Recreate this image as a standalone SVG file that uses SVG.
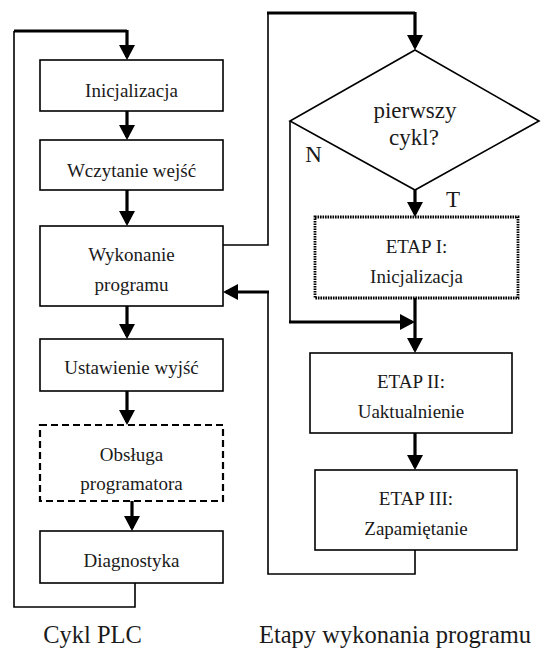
<svg xmlns="http://www.w3.org/2000/svg" width="541" height="655" viewBox="0 0 541 655">
<style>
  .box { fill: #fff; stroke: #000; stroke-width: 1.6; }
  .dashed { stroke-dasharray: 7 4; stroke-width: 2.2; }
  .dotted { stroke-dasharray: 1.6 0.9; stroke-width: 2.8; }
  .t { font-family: 'Liberation Serif', 'DejaVu Serif', 'Times New Roman', serif; font-size: 19px; fill: #1a1a1a; text-anchor: middle; }
  .big { font-size: 23px; }
  .cap { font-size: 24.5px; }
  .thin { fill: none; stroke: #000; stroke-width: 1.6; }
  .thick { fill: none; stroke: #000; stroke-width: 3.2; }
  .arr { marker-end: url(#ah); }
</style>
<defs>
  <marker id="ah" markerUnits="userSpaceOnUse" markerWidth="16" markerHeight="16" refX="12" refY="8" orient="auto" viewBox="0 0 16 16">
    <path d="M0,0 L15,8 L0,16 z" fill="#000"/>
  </marker>
</defs>
<rect width="541" height="655" fill="#fff"/>

<g id="connectors">
  <polyline class="thin" points="135,583 135,607 14,607 14,31"/>
  <polyline class="thick" points="14,31 127,31"/>
  <line class="thick arr" x1="127" y1="30" x2="127" y2="57"/>
  <line class="thick arr" x1="127" y1="111" x2="127" y2="137"/>
  <line class="thick arr" x1="127" y1="190" x2="127" y2="223"/>
  <line class="thick arr" x1="127" y1="306" x2="127" y2="336"/>
  <line class="thick arr" x1="127" y1="391" x2="127" y2="422"/>
  <line class="thick arr" x1="132" y1="501" x2="132" y2="528"/>
  <polyline class="thin" points="223,245 268,245 268,13"/>
  <polyline class="thick" points="267,13 415,13"/>
  <line class="thick arr" x1="415" y1="12" x2="415" y2="47"/>
  <line class="thick arr" x1="415" y1="190" x2="415" y2="214"/>
  <polyline class="thin" points="290,121 290,322"/>
  <line class="thick arr" x1="289" y1="322" x2="412" y2="322"/>
  <line class="thick arr" x1="415" y1="298" x2="415" y2="350"/>
  <line class="thick arr" x1="415" y1="433" x2="415" y2="467"/>
  <polyline class="thin" points="415,550 415,574 268,574 268,292"/>
  <line class="thick arr" x1="269" y1="292" x2="226" y2="292"/>
</g>

<g id="n-inicjalizacja">
  <rect class="box" x="40" y="60" width="183" height="51"/>
  <text class="t" x="131.5" y="97">Inicjalizacja</text>
</g>
<g id="n-wczytanie">
  <rect class="box" x="40" y="140" width="183" height="50"/>
  <text class="t" x="131.5" y="177">Wczytanie wejść</text>
</g>
<g id="n-wykonanie">
  <rect class="box" x="40" y="226" width="183" height="80"/>
  <text class="t" x="131.5" y="261">Wykonanie</text>
  <text class="t" x="131.5" y="291">programu</text>
</g>
<g id="n-ustawienie">
  <rect class="box" x="40" y="339" width="183" height="52"/>
  <text class="t" x="131.5" y="374">Ustawienie wyjść</text>
</g>
<g id="n-obsluga">
  <rect class="box dashed" x="40" y="425" width="183" height="76"/>
  <text class="t" x="131.5" y="461">Obsługa</text>
  <text class="t" x="131.5" y="490">programatora</text>
</g>
<g id="n-diagnostyka">
  <rect class="box" x="40" y="531" width="183" height="52"/>
  <text class="t" x="131.5" y="567">Diagnostyka</text>
</g>

<g id="n-decyzja">
  <polygon class="box" points="415,50 539,121 415,190 290,121"/>
  <text class="t big" x="415" y="118">pierwszy</text>
  <text class="t big" x="414" y="145">cykl?</text>
  <text class="t big" x="313.5" y="162">N</text>
  <text class="t big" x="453" y="207">T</text>
</g>
<g id="n-etap1">
  <rect class="box dotted" x="315" y="217" width="203" height="81"/>
  <text class="t" x="416.5" y="253">ETAP I:</text>
  <text class="t" x="416.5" y="283">Inicjalizacja</text>
</g>
<g id="n-etap2">
  <rect class="box" x="310" y="353" width="202" height="80"/>
  <text class="t" x="411" y="388">ETAP II:</text>
  <text class="t" x="411" y="418">Uaktualnienie</text>
</g>
<g id="n-etap3">
  <rect class="box" x="315" y="470" width="202" height="80"/>
  <text class="t" x="416" y="505">ETAP III:</text>
  <text class="t" x="416" y="535">Zapamiętanie</text>
</g>

<g id="captions">
  <text class="t cap" x="92.5" y="643">Cykl PLC</text>
  <text class="t cap" x="395" y="643">Etapy wykonania programu</text>
</g>
</svg>
